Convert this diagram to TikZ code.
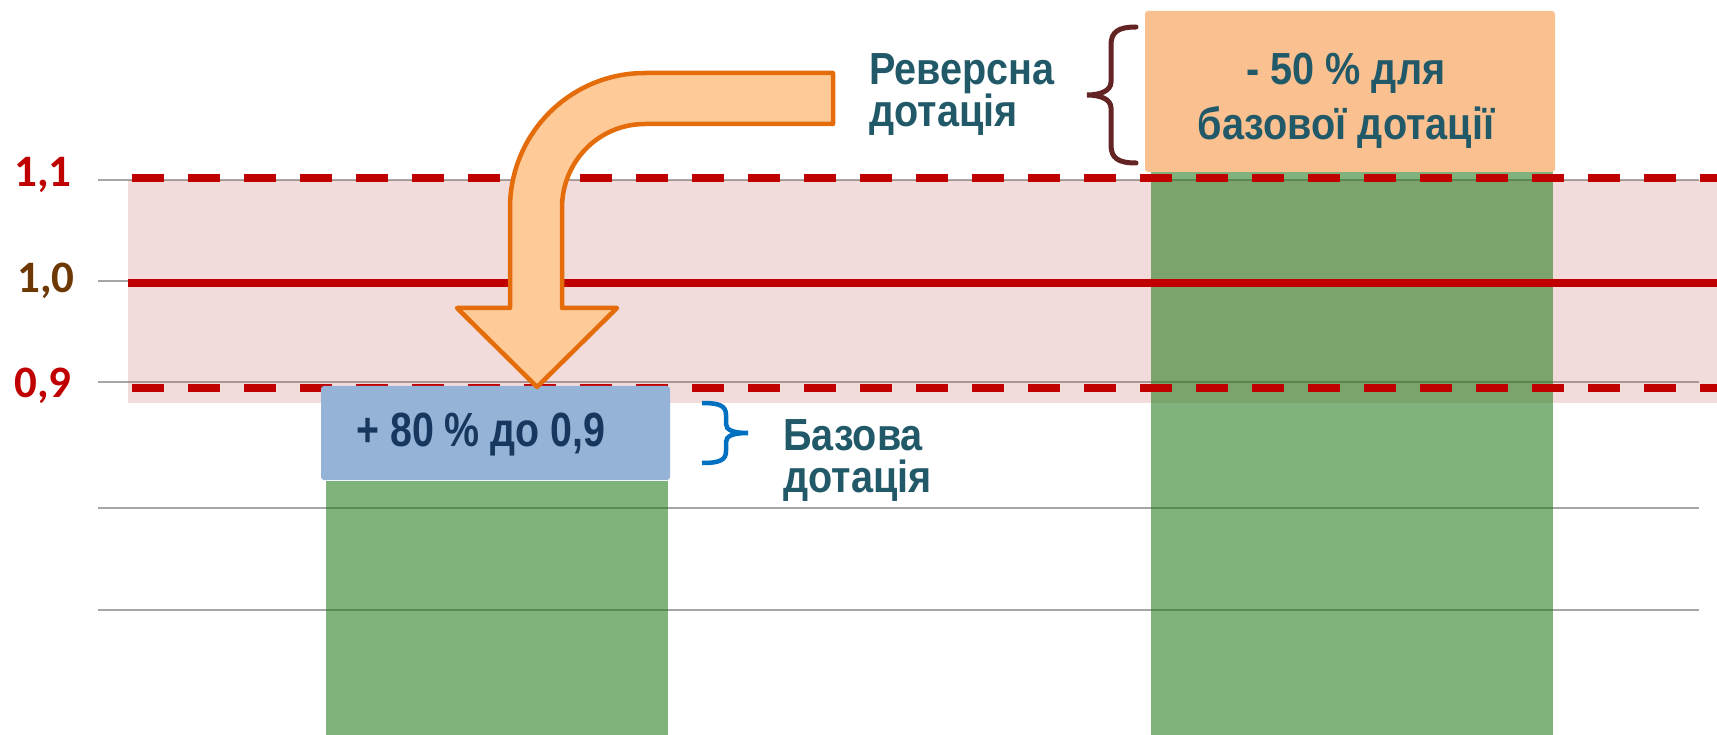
\documentclass[tikz,border=0pt]{standalone}
\usepackage{fontspec}
\setmainfont{Liberation Sans}[FakeStretch=0.82]
\newfontfamily\widefont{Liberation Sans}[FakeStretch=0.88]
\newfontfamily\calib{Carlito}
\definecolor{barg}{RGB}{32,120,25}
\definecolor{bandred}{RGB}{192,80,77}
\definecolor{gridgray}{RGB}{166,166,166}
\definecolor{linered}{RGB}{192,0,0}
\definecolor{axbrown}{RGB}{110,56,4}
\definecolor{boxblue}{RGB}{149,179,215}
\definecolor{boxorange}{RGB}{250,192,144}
\definecolor{arrfill}{RGB}{254,202,152}
\definecolor{arrline}{RGB}{228,108,10}
\definecolor{teal}{RGB}{33,89,104}
\definecolor{navy}{RGB}{23,55,94}
\definecolor{bracebrown}{RGB}{99,36,35}
\definecolor{braceblue}{RGB}{0,112,192}
\begin{document}
\begin{tikzpicture}[x=1pt,y=-1pt,
  bar/.style={fill=barg,fill opacity=0.57,draw=none},
  grid/.style={draw=gridgray,line width=2.5pt},
  redsolid/.style={draw=linered,line width=8pt},
  reddash/.style={draw=linered,line width=8pt,dash pattern=on 32pt off 24pt},
  label/.style={font=\widefont\bfseries\fontsize{45}{42}\selectfont,text=teal,inner sep=0pt,align=left},
  axlabel/.style={font=\calib\bfseries\fontsize{45}{45}\selectfont,inner sep=0pt},
  vbox/.style={rounded corners=3pt,draw=none,inner sep=0pt}]
\useasboundingbox (0,0) rectangle (1717,735);
% gridlines
\foreach \yy in {180,281,382,508,610} \draw[grid] (98,\yy) -- (1699,\yy);
% band
\fill[bandred,opacity=0.2] (128,180) rectangle (1717,403);
% bars
\fill[bar] (326,481) rectangle (668,735);
\fill[bar] (1151,172) rectangle (1553,735);
% red lines
\draw[redsolid] (128,283) -- (1717,283);
\draw[reddash] (132,178) -- (1717,178);
\draw[reddash] (132,388) -- (1717,388);
% boxes
\node[vbox,fill=boxblue,minimum width=349pt,minimum height=94pt] (blue) at (495.5,433) {};
\node[vbox,fill=boxorange,minimum width=410pt,minimum height=161pt] (orange) at (1350,91.5) {};
\node[font=\bfseries\fontsize{48}{48}\selectfont,text=navy,inner sep=0pt,anchor=base] (bluetxt) at (481,446) {+ 80 \% до 0,9};
\node[font=\widefont\bfseries\fontsize{45}{55}\selectfont,text=teal,inner sep=0pt,anchor=base,align=center] (orangetxt) at (1346,140) {- 50 \% для\\базової дотації};
% arrow
\draw[fill=arrfill,draw=arrline,line width=4.5pt,line join=round]
  (833,73) -- (645,73) .. controls (570.4,73) and (510,133.4) .. (510,208)
  -- (510,308) -- (457,308) -- (537,387) -- (617,308) -- (562,308) -- (562,208)
  .. controls (562,161.6) and (598.6,124) .. (645,124) -- (833,124) -- cycle;
% braces
\draw[bracebrown,line width=5pt,line cap=round]
  (1136,27) .. controls (1118,27) and (1111,32) .. (1111,45) -- (1111,82)
  .. controls (1111,91) and (1100,95) .. (1087,95)
  .. controls (1100,95) and (1111,99) .. (1111,108) -- (1111,145)
  .. controls (1111,158) and (1118,163) .. (1136,163);
\draw[braceblue,line width=4.5pt]
  (702,403) .. controls (720,403) and (726,406) .. (726,415) -- (726,424)
  .. controls (726,430) and (733,433) .. (748,433)
  .. controls (733,433) and (726,436) .. (726,442) -- (726,451)
  .. controls (726,460) and (720,463) .. (702,463);
% labels
\node[label,anchor=base west] (rev) at (869,127) {Реверсна\\дотація};
\node[label,anchor=base west] (baz) at (783,492) {Базова\\дотація};
\node[axlabel,text=linered,anchor=base] (a11) at (43,187) {1,1};
\node[axlabel,text=axbrown,anchor=base] (a10) at (46,293) {1,0};
\node[axlabel,text=linered,anchor=base] (a09) at (43,398) {0,9};
\end{tikzpicture}
\end{document}
